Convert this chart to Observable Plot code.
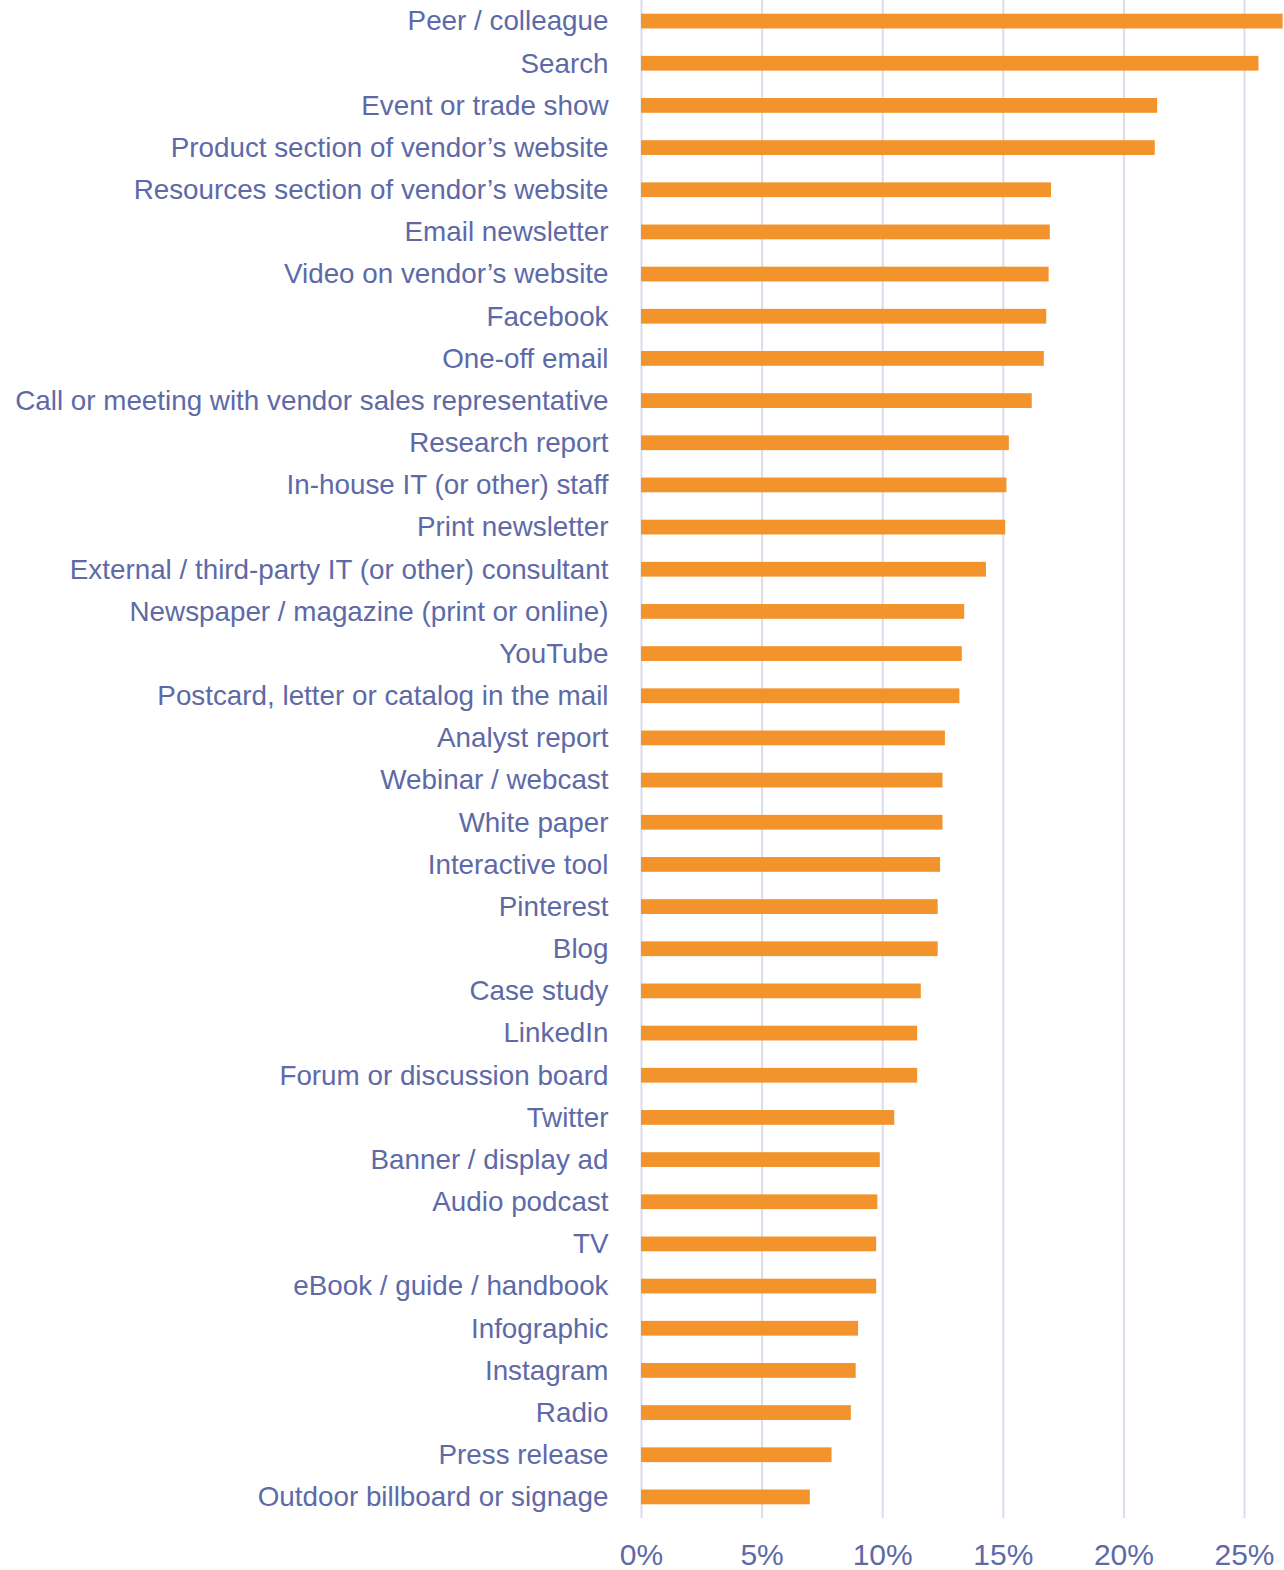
<!DOCTYPE html>
<html>
<head>
<meta charset="utf-8">
<script src="https://cdn.jsdelivr.net/npm/d3@7"></script>
<script src="https://cdn.jsdelivr.net/npm/@observablehq/plot@0.6"></script>
<style>
  html, body { margin: 0; padding: 0; background: #fff; }
  #chart svg { display: block; }
</style>
</head>
<body>
<div id="chart"></div>
<script>
const categories = [
  "Peer / colleague",
  "Search",
  "Event or trade show",
  "Product section of vendor’s website",
  "Resources section of vendor’s website",
  "Email newsletter",
  "Video on vendor’s website",
  "Facebook",
  "One-off email",
  "Call or meeting with vendor sales representative",
  "Research report",
  "In-house IT (or other) staff",
  "Print newsletter",
  "External / third-party IT (or other) consultant",
  "Newspaper / magazine (print or online)",
  "YouTube",
  "Postcard, letter or catalog in the mail",
  "Analyst report",
  "Webinar / webcast",
  "White paper",
  "Interactive tool",
  "Pinterest",
  "Blog",
  "Case study",
  "LinkedIn",
  "Forum or discussion board",
  "Twitter",
  "Banner / display ad",
  "Audio podcast",
  "TV",
  "eBook / guide / handbook",
  "Infographic",
  "Instagram",
  "Radio",
  "Press release",
  "Outdoor billboard or signage"
];
const values = [
  26.6, 25.6, 21.4, 21.3, 17.0, 16.95, 16.9, 16.8, 16.7, 16.2,
  15.25, 15.15, 15.1, 14.3, 13.4, 13.3, 13.2, 12.6, 12.5, 12.5,
  12.4, 12.3, 12.3, 11.6, 11.45, 11.45, 10.5, 9.9, 9.8, 9.75,
  9.75, 9.0, 8.9, 8.7, 7.9, 7.0
];
const xTicks = [0, 5, 10, 15, 20, 25];

const data = categories.map((c, i) => ({category: c, value: values[i]}));

const textColor = "#5d6aa7";
const chart = Plot.plot({
  width: 1284,
  height: 1570,
  marginLeft: 641,
  marginRight: 1.4,
  marginTop: 0,
  marginBottom: 52,
  style: {fontFamily: "'Liberation Sans', Arial, sans-serif", background: "#fff"},
  x: {domain: [0, 26.6]},
  y: {domain: categories, padding: 0, round: false},
  marks: [
    Plot.gridX(xTicks, {stroke: "#dadbeb", strokeWidth: 2, strokeOpacity: 1}),
    Plot.barX(data, {x: "value", y: "category", fill: "#f2932b", insetTop: 13.7, insetBottom: 13.7}),
    Plot.axisY({tickSize: 0, tickPadding: 33, fontSize: 27.8, fill: textColor, label: null}),
    Plot.axisX(xTicks, {tickSize: 0, tickPadding: 25, fontSize: 30, fill: textColor, label: null, tickFormat: d => d + "%"})
  ]
});
document.getElementById("chart").appendChild(chart);
</script>
</body>
</html>
